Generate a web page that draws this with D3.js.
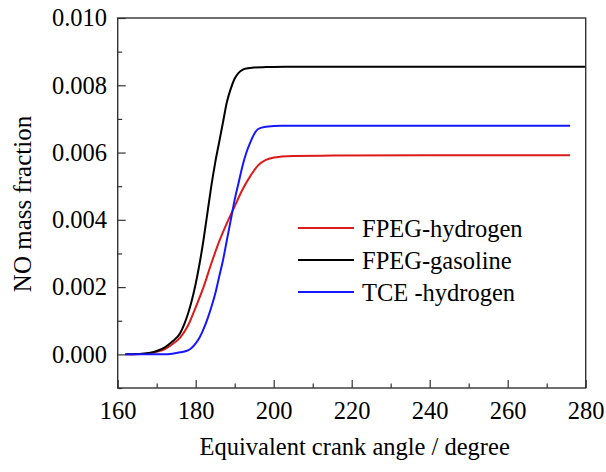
<!DOCTYPE html>
<html>
<head>
<meta charset="utf-8">
<script src="https://cdn.jsdelivr.net/npm/d3@7"></script>
<style>
  html, body { margin: 0; padding: 0; background: #ffffff; }
  svg { display: block; }
  text { font-family: "Liberation Serif", "Times New Roman", serif; fill: #000; }
</style>
</head>
<body>
<svg id="chart" width="606" height="472"></svg>
<script>
// Crank angle (degree) and NO mass fraction for each case
const gasolineAngle = [162, 165, 168, 170, 172, 174, 176, 177, 178, 179, 180, 181, 182, 183, 184, 185, 186, 187, 188, 189, 190, 191, 192, 193, 195, 198, 203, 240, 280];
const gasolineNO    = [0, 0.00001, 0.00004, 0.0001, 0.0002, 0.00038, 0.00063, 0.00088, 0.0012, 0.0016, 0.0021, 0.0027, 0.0034, 0.0042, 0.0050, 0.0057, 0.0063, 0.0069, 0.0075, 0.0079, 0.0082, 0.00837, 0.00846, 0.0085, 0.00853, 0.00854, 0.00855, 0.00855, 0.00855];

const hydrogenAngle = [162, 166, 168, 170, 172, 174, 176, 178, 180, 182, 184, 186, 188, 190, 192, 194, 196, 198, 200, 202, 205, 215, 240, 276];
const hydrogenNO    = [0, 0.00001, 0.00003, 0.00008, 0.00015, 0.0003, 0.0005, 0.00085, 0.0014, 0.002, 0.0027, 0.00335, 0.0039, 0.0044, 0.0049, 0.0053, 0.00562, 0.00578, 0.00585, 0.00588, 0.0059, 0.00591, 0.00592, 0.00592];

const tceAngle = [162, 172, 174, 176, 178, 179, 180, 181, 182, 183, 184, 185, 186, 187, 188, 189, 190, 191, 192, 193, 194, 195, 196, 198, 202, 240, 276];
const tceNO    = [0, 0, 0.00002, 0.00006, 0.00012, 0.0002, 0.00033, 0.0005, 0.00075, 0.00105, 0.0014, 0.0018, 0.0023, 0.0028, 0.0034, 0.004, 0.0046, 0.0051, 0.0056, 0.006, 0.0063, 0.00655, 0.0067, 0.00677, 0.0068, 0.0068, 0.0068];

const seriesNames  = ["FPEG-hydrogen", "FPEG-gasoline", "TCE -hydrogen"];
const seriesColors = ["#dc1a1a", "#000000", "#1616ff"];

const xMajorTicks = [160, 180, 200, 220, 240, 260, 280];
const xMinorTicks = [170, 190, 210, 230, 250, 270];
const yMajorTicks = [0, 0.002, 0.004, 0.006, 0.008, 0.010];
const yMinorTicks = [-0.001, 0.001, 0.003, 0.005, 0.007, 0.009];

const xTitle = "Equivalent crank angle / degree";
const yTitle = "NO mass fraction";

const series = [
  { name: seriesNames[0], color: seriesColors[0], x: hydrogenAngle, y: hydrogenNO },
  { name: seriesNames[1], color: seriesColors[1], x: gasolineAngle, y: gasolineNO },
  { name: seriesNames[2], color: seriesColors[2], x: tceAngle, y: tceNO }
];

const svg = d3.select("#chart");
const plot = { left: 117.7, right: 585.7, top: 18, bottom: 388 };

const x = d3.scaleLinear().domain([160, 280]).range([plot.left, plot.right]);
const y = d3.scaleLinear().domain([-0.001, 0.010]).range([plot.bottom, plot.top]);

// Curves
const line = d3.line()
  .x(d => x(d[0]))
  .y(d => y(d[1]))
  .curve(d3.curveMonotoneX);

svg.append("g")
  .selectAll("path")
  .data(series)
  .join("path")
  .attr("fill", "none")
  .attr("stroke", d => d.color)
  .attr("stroke-width", 2)
  .attr("stroke-linejoin", "round")
  .attr("d", d => line(d.x.map((a, i) => [a, d.y[i]])));

// Axes with inward ticks
const fontSize = 24.5;

svg.append("g")
  .attr("transform", `translate(0,${plot.bottom})`)
  .call(d3.axisBottom(x).tickValues(xMajorTicks).tickFormat(d3.format("d"))
    .tickSize(-8).tickPadding(14));
svg.append("g")
  .attr("transform", `translate(0,${plot.bottom})`)
  .call(d3.axisBottom(x).tickValues(xMinorTicks).tickFormat("").tickSize(-4.5));

svg.append("g")
  .attr("transform", `translate(${plot.left},0)`)
  .call(d3.axisLeft(y).tickValues(yMajorTicks).tickFormat(d3.format(".3f"))
    .tickSize(-8).tickPadding(10.7));
svg.append("g")
  .attr("transform", `translate(${plot.left},0)`)
  .call(d3.axisLeft(y).tickValues(yMinorTicks).tickFormat("").tickSize(-4.5));

svg.selectAll(".domain").remove();
svg.selectAll(".tick line").attr("stroke", "#333").attr("stroke-width", 1.2);
svg.selectAll(".tick text")
  .attr("font-family", "Liberation Serif, Times New Roman, serif")
  .attr("font-size", fontSize)
  .attr("fill", "#000");

// Frame
svg.append("rect")
  .attr("x", plot.left)
  .attr("y", plot.top)
  .attr("width", plot.right - plot.left)
  .attr("height", plot.bottom - plot.top)
  .attr("fill", "none")
  .attr("stroke", "#333")
  .attr("stroke-width", 1.4);

// Axis titles
svg.append("text")
  .attr("x", (plot.left + plot.right) / 2 + 3)
  .attr("y", 455)
  .attr("text-anchor", "middle")
  .attr("font-size", fontSize)
  .text(xTitle);

svg.append("text")
  .attr("transform", `translate(31,${(plot.top + plot.bottom) / 2 + 1}) rotate(-90)`)
  .attr("text-anchor", "middle")
  .attr("font-size", 25)
  .text(yTitle);

// Legend
const legend = svg.append("g");
const legendRows = legend.selectAll("g")
  .data(series)
  .join("g")
  .attr("transform", (d, i) => `translate(298,${228 + i * 32})`);
legendRows.append("line")
  .attr("x1", 0).attr("x2", 56)
  .attr("stroke", d => d.color)
  .attr("stroke-width", 2);
legendRows.append("text")
  .attr("x", 64)
  .attr("dy", "0.35em")
  .attr("font-size", fontSize)
  .text(d => d.name);
</script>
</body>
</html>
